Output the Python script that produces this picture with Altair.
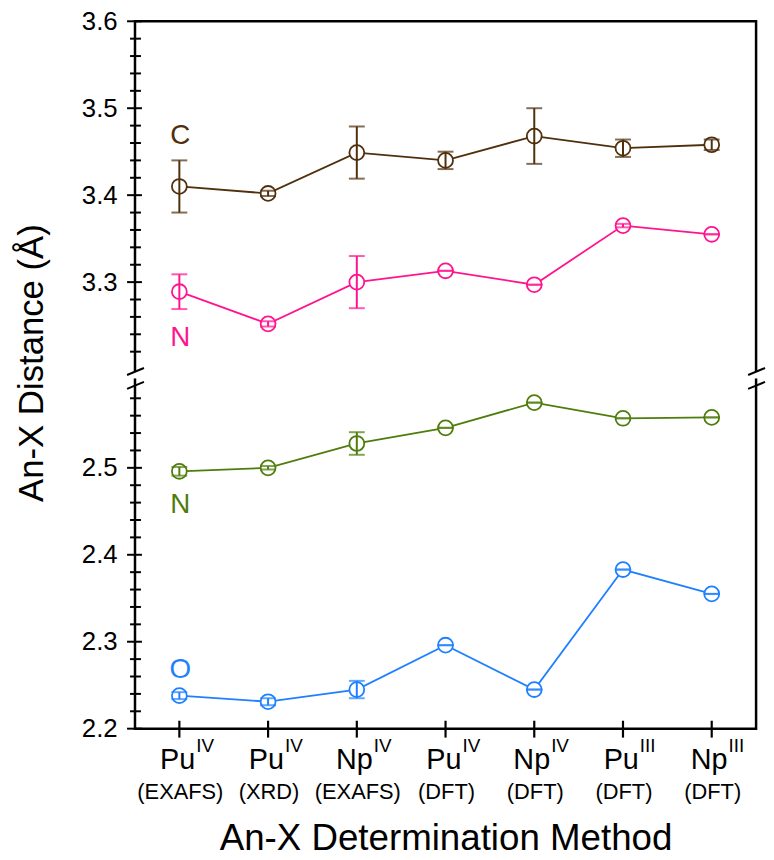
import altair as alt
import pandas as pd

# ---------------- data ----------------
categories = ["Pu IV EXAFS", "Pu IV XRD", "Np IV EXAFS", "Pu IV DFT",
              "Np IV DFT", "Pu III DFT", "Np III DFT"]
element = ["Pu", "Pu", "Np", "Pu", "Np", "Pu", "Np"]
oxidation = ["IV", "IV", "IV", "IV", "IV", "III", "III"]
method = ["(EXAFS)", "(XRD)", "(EXAFS)", "(DFT)", "(DFT)", "(DFT)", "(DFT)"]

series_names = ["An-C", "An-N (upper)", "An-N (lower)", "An-O"]
series_labels = ["C", "N", "N", "O"]
series_colors = ["#4f2f0c", "#ff148f", "#4e7d0b", "#1e80ff"]

c_val = [3.410, 3.402, 3.449, 3.440, 3.468, 3.454, 3.458]
c_err = [0.030, 0.003, 0.030, 0.010, 0.032, 0.010, 0.006]
nup_val = [3.289, 3.252, 3.300, 3.313, 3.297, 3.365, 3.355]
nup_err = [0.020, 0.003, 0.030, 0.000, 0.000, 0.002, 0.000]
nlo_val = [2.496, 2.500, 2.528, 2.546, 2.575, 2.557, 2.558]
nlo_err = [0.005, 0.002, 0.013, 0.000, 0.000, 0.000, 0.000]
o_val = [2.238, 2.231, 2.245, 2.296, 2.245, 2.383, 2.355]
o_err = [0.004, 0.004, 0.010, 0.000, 0.000, 0.000, 0.000]

major_lower = [2.2, 2.3, 2.4, 2.5]
major_upper = [3.3, 3.4, 3.5, 3.6]
minor_lower = [2.22, 2.24, 2.26, 2.28, 2.32, 2.34, 2.36, 2.38,
               2.42, 2.44, 2.46, 2.48, 2.52, 2.54, 2.56, 2.58]
minor_upper = [3.22, 3.24, 3.26, 3.28, 3.32, 3.34, 3.36, 3.38,
               3.42, 3.44, 3.46, 3.48, 3.52, 3.54, 3.56, 3.58]

# ---------------- broken-axis scale ----------------
BREAK = 3.0          # values above this belong to the upper segment
SHIFT = 0.5864       # upper segment is drawn shifted down by this amount
Y_MIN = 2.2
Y_MAX = 3.6 - SHIFT
GAP_MID = (2.6 + 3.2 - SHIFT) / 2


def tr(v):
    return round(v - SHIFT, 5) if v > BREAK else v


W, H = 626, 713
FONT = "Liberation Sans"

rows = []
for name, lab, vals, errs in zip(series_names, series_labels,
                                 [c_val, nup_val, nlo_val, o_val],
                                 [c_err, nup_err, nlo_err, o_err]):
    for i, (v, e) in enumerate(zip(vals, errs)):
        rows.append(dict(series=name, label=lab, cat=categories[i], idx=i,
                         t=tr(v), lo=tr(v - e), hi=tr(v + e)))
df = pd.DataFrame(rows)

cat_df = pd.DataFrame(dict(cat=categories, element=element,
                           ox=oxidation, method=method))

ticks_df = pd.DataFrame(
    [dict(t=tr(v), kind="major") for v in major_lower + major_upper] +
    [dict(t=tr(v), kind="minor") for v in minor_lower + minor_upper])

yscale = alt.Scale(domain=[Y_MIN, Y_MAX], nice=False, zero=False)
xscale = alt.Scale(type="point", padding=0.5)
color = alt.Color("series:N", scale=alt.Scale(domain=series_names,
                                              range=series_colors),
                  legend=None)

label_expr = ("datum.value > 2.61 ? format(datum.value + %s, '.1f') "
              ": format(datum.value, '.1f')" % SHIFT)

X_AX = alt.Axis(labels=False, ticks=False, domain=False,
                grid=False, title="An-X Determination Method",
                titleFont=FONT, titleFontSize=37,
                titleFontWeight="normal", titleColor="black",
                titleBaseline="alphabetic", titleY=122)
Y_AX = alt.Axis(values=[tr(v) for v in major_lower + major_upper],
                labelExpr=label_expr, ticks=False, tickSize=0,
                domain=False, grid=False, labelPadding=18,
                labelFont=FONT, labelFontSize=26,
                labelColor="black", labelBaseline="middle",
                title="An-X Distance (Å)", titleFont=FONT,
                titleFontSize=35, titleFontWeight="normal",
                titleColor="black", titleAngle=270,
                titleAlign="center", titleBaseline="alphabetic",
                titleX=-93, titleY=344)


def X():
    return alt.X("cat:N", sort=categories, scale=xscale, axis=X_AX)


def Y(field):
    return alt.Y(field + ":Q", scale=yscale, axis=Y_AX,
                 title="An-X Distance (Å)")


base = alt.Chart(df)

lines = base.mark_line(strokeWidth=1.8).encode(
    x=X(), y=Y("t"), color=color, detail="series:N", order="idx:Q")

points = base.mark_point(shape="circle", size=225, strokeWidth=1.8,
                         filled=False, fill="white", fillOpacity=1,
                         opacity=1).encode(x=X(), y=Y("t"), color=color)

err_rule = base.mark_rule(strokeWidth=2).encode(
    x=X(), y=Y("lo"), y2="hi:Q", color=color)

cap_lo = base.mark_tick(orient="horizontal", size=16, thickness=2).encode(
    x=X(), y=Y("lo"), color=color)
cap_hi = base.mark_tick(orient="horizontal", size=16, thickness=2).encode(
    x=X(), y=Y("hi"), color=color)

# series letters next to the first point
label_dy = [-43, 55, 42, -18]
letter_layers = []
for name, dy in zip(series_names, label_dy):
    letter_layers.append(
        alt.Chart(df[(df.series == name) & (df.idx == 0)]).mark_text(
            font=FONT, fontSize=28, align="center", baseline="alphabetic",
            dx=1, dy=dy).encode(x=X(), y=Y("t"), text="label:N", color=color))

# axis ticks crossing the axis line
ytick_major = alt.Chart(ticks_df[ticks_df.kind == "major"]).mark_rule(
    strokeWidth=2, color="black").encode(
    y=Y("t"), x=alt.value(-8), x2=alt.value(7))
ytick_minor = alt.Chart(ticks_df[ticks_df.kind == "minor"]).mark_rule(
    strokeWidth=2, color="black").encode(
    y=Y("t"), x=alt.value(-5), x2=alt.value(6))
xticks = alt.Chart(cat_df).mark_rule(strokeWidth=2.2, color="black").encode(
    x=X(), y=alt.value(H - 8), y2=alt.value(H + 9))

# category labels: element + superscript oxidation state + method
lab_main = alt.Chart(cat_df).mark_text(
    font=FONT, fontSize=29, align="right", baseline="alphabetic",
    dx=16, color="black").encode(x=X(), y=alt.value(H + 41), text="element:N")
lab_sup = alt.Chart(cat_df).mark_text(
    font=FONT, fontSize=19, align="left", baseline="alphabetic",
    dx=17, color="black").encode(x=X(), y=alt.value(H + 24), text="ox:N")
lab_method = alt.Chart(cat_df).mark_text(
    font=FONT, fontSize=22, align="center", baseline="alphabetic",
    dx=1, color="black").encode(x=X(), y=alt.value(H + 71), text="method:N")

# axis break marks (left and right)
px = (Y_MAX - Y_MIN) / H
brk = alt.Chart(pd.DataFrame({"a": [0]}))
erase_l = brk.mark_rect(color="white").encode(
    x=alt.value(-3), x2=alt.value(3),
    y=alt.datum(GAP_MID + 3.5 * px, scale=yscale),
    y2=alt.datum(GAP_MID - 3.5 * px))
erase_r = brk.mark_rect(color="white").encode(
    x=alt.value(W - 3), x2=alt.value(W + 3),
    y=alt.datum(GAP_MID + 3.5 * px, scale=yscale),
    y2=alt.datum(GAP_MID - 3.5 * px))
slashes = []
for x0 in (0, W):
    for off in (3.5, -10.5):
        slashes.append(brk.mark_rule(color="black", strokeWidth=2).encode(
            x=alt.value(x0 - 8), x2=alt.value(x0 + 9),
            y=alt.datum(GAP_MID + off * px - 3.5 * px, scale=yscale),
            y2=alt.datum(GAP_MID + off * px + 3.5 * px)))

chart = alt.layer(
    lines, points, err_rule, cap_lo, cap_hi, *letter_layers,
    ytick_major, ytick_minor, xticks, lab_main, lab_sup, lab_method,
    erase_l, erase_r, *slashes
).properties(
    width=W, height=H,
    autosize=alt.AutoSizeParams(type="none"),
    padding={"left": 128, "top": 10, "right": 10, "bottom": 131},
    background="white",
).configure_view(
    stroke="black", strokeWidth=2.5
)

chart.save("out.html", embed_options={"renderer": "svg", "actions": False})
